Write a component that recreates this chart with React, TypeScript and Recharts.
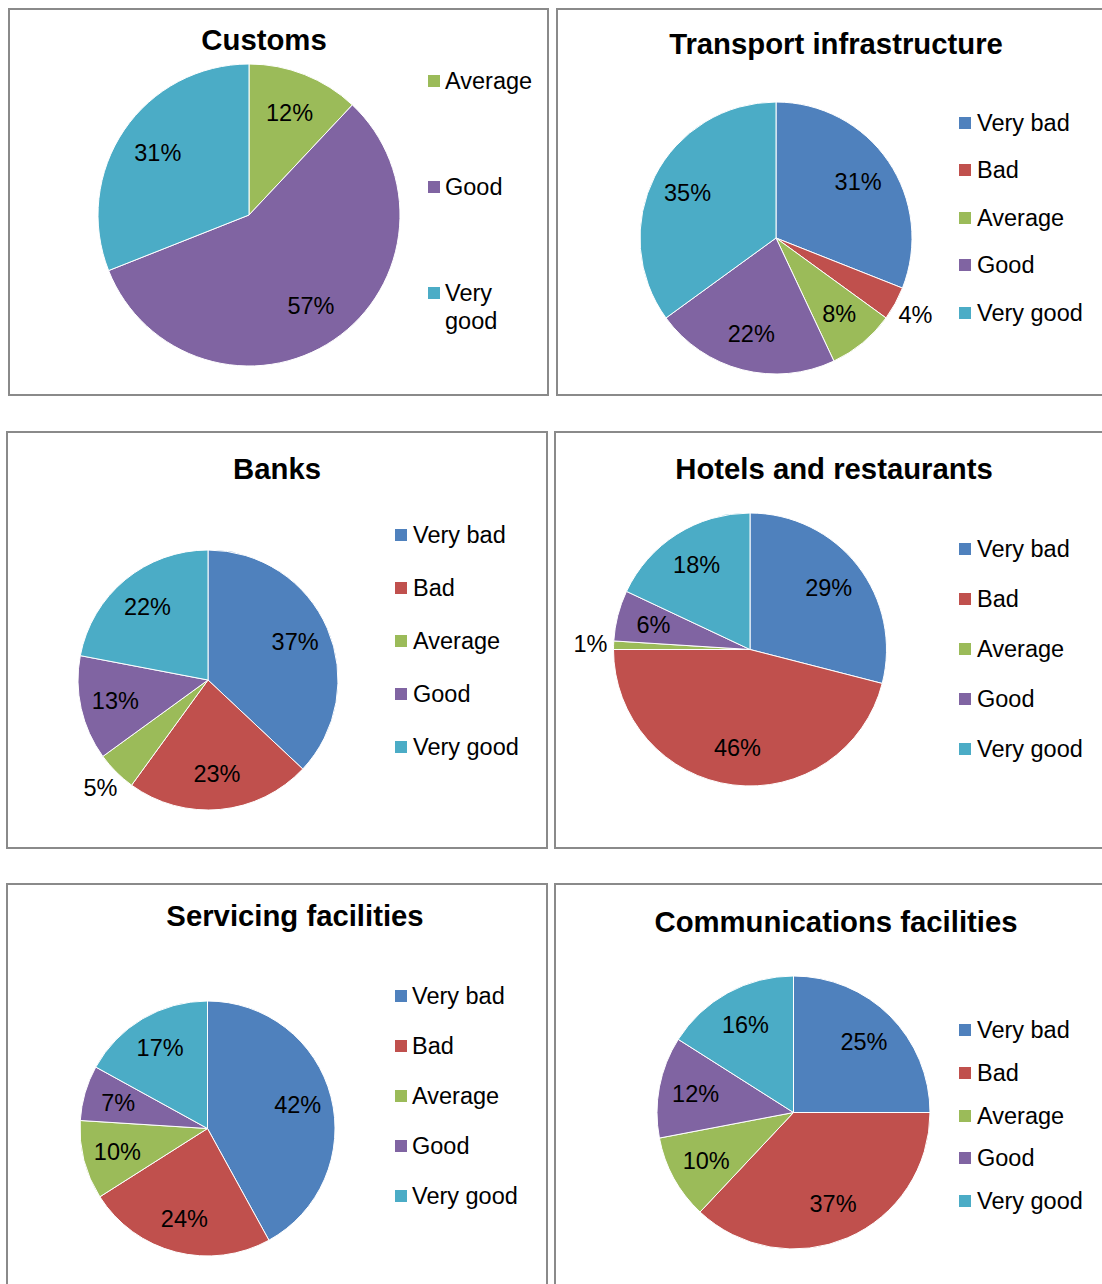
import React from 'react';
import { PieChart, Pie, Cell } from 'recharts';

// ---------- data ----------
const ratingCategories = ['Very bad', 'Bad', 'Average', 'Good', 'Very good'];
const customsCategories = ['Average', 'Good', 'Very good'];

const customsValues = [12, 57, 31];
const transportValues = [31, 4, 8, 22, 35];
const banksValues = [37, 23, 5, 13, 22];
const hotelsValues = [29, 46, 1, 6, 18];
const servicingValues = [42, 24, 10, 7, 17];
const communicationsValues = [25, 37, 10, 12, 16];

const chartTitles = [
  'Customs',
  'Transport infrastructure',
  'Banks',
  'Hotels and restaurants',
  'Servicing facilities',
  'Communications facilities',
];

// ---------- styles ----------
const categoryColors: Record<string, string> = {
  'Very bad': '#4F81BD',
  Bad: '#C0504D',
  Average: '#9BBB59',
  Good: '#8064A2',
  'Very good': '#4BACC6',
};

const FONT = '"Liberation Sans", Arial, Helvetica, sans-serif';
const TITLE_SIZE = 29.3;
const TEXT_SIZE = 23.5;

type Layout = {
  left: number; top: number; width: number; height: number;
  cx: number; cy: number; r: number;
  titleX: number; titleY: number;
  markerX: number; textX: number; legendY0: number; legendStep: number; legendTextWidth: number;
};

const layouts: Layout[] = [
  { left: 8, top: 8, width: 541, height: 388, cx: 241, cy: 207, r: 151, titleX: 256, titleY: 32,
    markerX: 420, textX: 437, legendY0: 73, legendStep: 106, legendTextWidth: 95 },
  { left: 556, top: 8, width: 548, height: 388, cx: 220, cy: 230, r: 136, titleX: 280, titleY: 36,
    markerX: 403, textX: 421, legendY0: 115, legendStep: 47.4, legendTextWidth: 200 },
  { left: 6, top: 431, width: 542, height: 418, cx: 202, cy: 249, r: 130, titleX: 271, titleY: 38,
    markerX: 389, textX: 407, legendY0: 103.5, legendStep: 53, legendTextWidth: 200 },
  { left: 554, top: 431, width: 550, height: 418, cx: 196, cy: 218.5, r: 136.5, titleX: 280, titleY: 38,
    markerX: 405, textX: 423, legendY0: 118, legendStep: 50.1, legendTextWidth: 200 },
  { left: 6, top: 883, width: 542, height: 410, cx: 201.5, cy: 245.5, r: 127.5, titleX: 289, titleY: 33,
    markerX: 389, textX: 406, legendY0: 113, legendStep: 50, legendTextWidth: 200 },
  { left: 554, top: 883, width: 550, height: 410, cx: 239.5, cy: 229.5, r: 136.5, titleX: 282, titleY: 39,
    markerX: 405, textX: 423, legendY0: 147, legendStep: 42.75, legendTextWidth: 200 },
];

const buildRows = (cats: string[], vals: number[]) =>
  cats.map((name, i) => ({ name, value: vals[i] }));

const charts = [
  { cats: customsCategories, vals: customsValues },
  { cats: ratingCategories, vals: transportValues },
  { cats: ratingCategories, vals: banksValues },
  { cats: ratingCategories, vals: hotelsValues },
  { cats: ratingCategories, vals: servicingValues },
  { cats: ratingCategories, vals: communicationsValues },
];

const RAD = Math.PI / 180;

const renderLabel = (props: any) => {
  const { cx, cy, midAngle, outerRadius, percent, value } = props;
  const outside = percent < 0.055;
  const rr = outerRadius * (outside ? 1.17 : 0.73);
  const x = cx + rr * Math.cos(-midAngle * RAD);
  const y = cy + rr * Math.sin(-midAngle * RAD);
  return (
    <text
      x={x}
      y={y}
      textAnchor="middle"
      dominantBaseline="central"
      fontSize={TEXT_SIZE}
      fontFamily={FONT}
      fill="#000"
    >
      {`${value}%`}
    </text>
  );
};

const Panel = ({ index }: { index: number }) => {
  const L = layouts[index];
  const { cats, vals } = charts[index];
  const rows = buildRows(cats, vals);
  return (
    <div style={{ position: 'absolute', left: L.left, top: L.top, width: L.width, height: L.height }}>
      <div style={{ position: 'absolute', left: 0, top: 0 }}>
        <PieChart width={L.width} height={L.height} margin={{ top: 0, right: 0, bottom: 0, left: 0 }}>
          <Pie
            data={rows}
            dataKey="value"
            nameKey="name"
            cx={L.cx}
            cy={L.cy}
            outerRadius={L.r}
            startAngle={90}
            endAngle={-270}
            stroke="#ffffff"
            strokeWidth={1}
            labelLine={false}
            label={renderLabel}
            isAnimationActive={false}
          >
            {rows.map((row) => (
              <Cell key={row.name} fill={categoryColors[row.name]} />
            ))}
          </Pie>
        </PieChart>
      </div>
      {/* title */}
      <div
        style={{
          position: 'absolute',
          left: L.titleX - 300,
          width: 600,
          top: L.titleY - 18,
          height: 36,
          lineHeight: '36px',
          textAlign: 'center',
          fontFamily: FONT,
          fontWeight: 'bold',
          fontSize: TITLE_SIZE,
          color: '#000',
          whiteSpace: 'nowrap',
        }}
      >
        {chartTitles[index]}
      </div>
      {/* legend */}
      {rows.map((row, i) => {
        const y = L.legendY0 + i * L.legendStep;
        return (
          <React.Fragment key={row.name}>
            <div
              style={{
                position: 'absolute',
                left: L.markerX,
                top: y - 6,
                width: 12,
                height: 12,
                background: categoryColors[row.name],
              }}
            />
            <div
              style={{
                position: 'absolute',
                left: L.textX,
                top: y - 14,
                width: L.legendTextWidth,
                lineHeight: '28px',
                fontFamily: FONT,
                fontSize: TEXT_SIZE,
                color: '#000',
              }}
            >
              {row.name}
            </div>
          </React.Fragment>
        );
      })}
      {/* border */}
      <div
        style={{
          position: 'absolute',
          left: 0,
          top: 0,
          width: L.width,
          height: L.height,
          boxSizing: 'border-box',
          border: '2px solid #8a8a8a',
          pointerEvents: 'none',
        }}
      />
    </div>
  );
};

export default function App() {
  return (
    <div
      style={{
        position: 'absolute',
        left: 0,
        top: 0,
        width: 1102,
        height: 1284,
        overflow: 'hidden',
        background: '#ffffff',
      }}
    >
      {layouts.map((_, i) => (
        <Panel key={i} index={i} />
      ))}
    </div>
  );
}
